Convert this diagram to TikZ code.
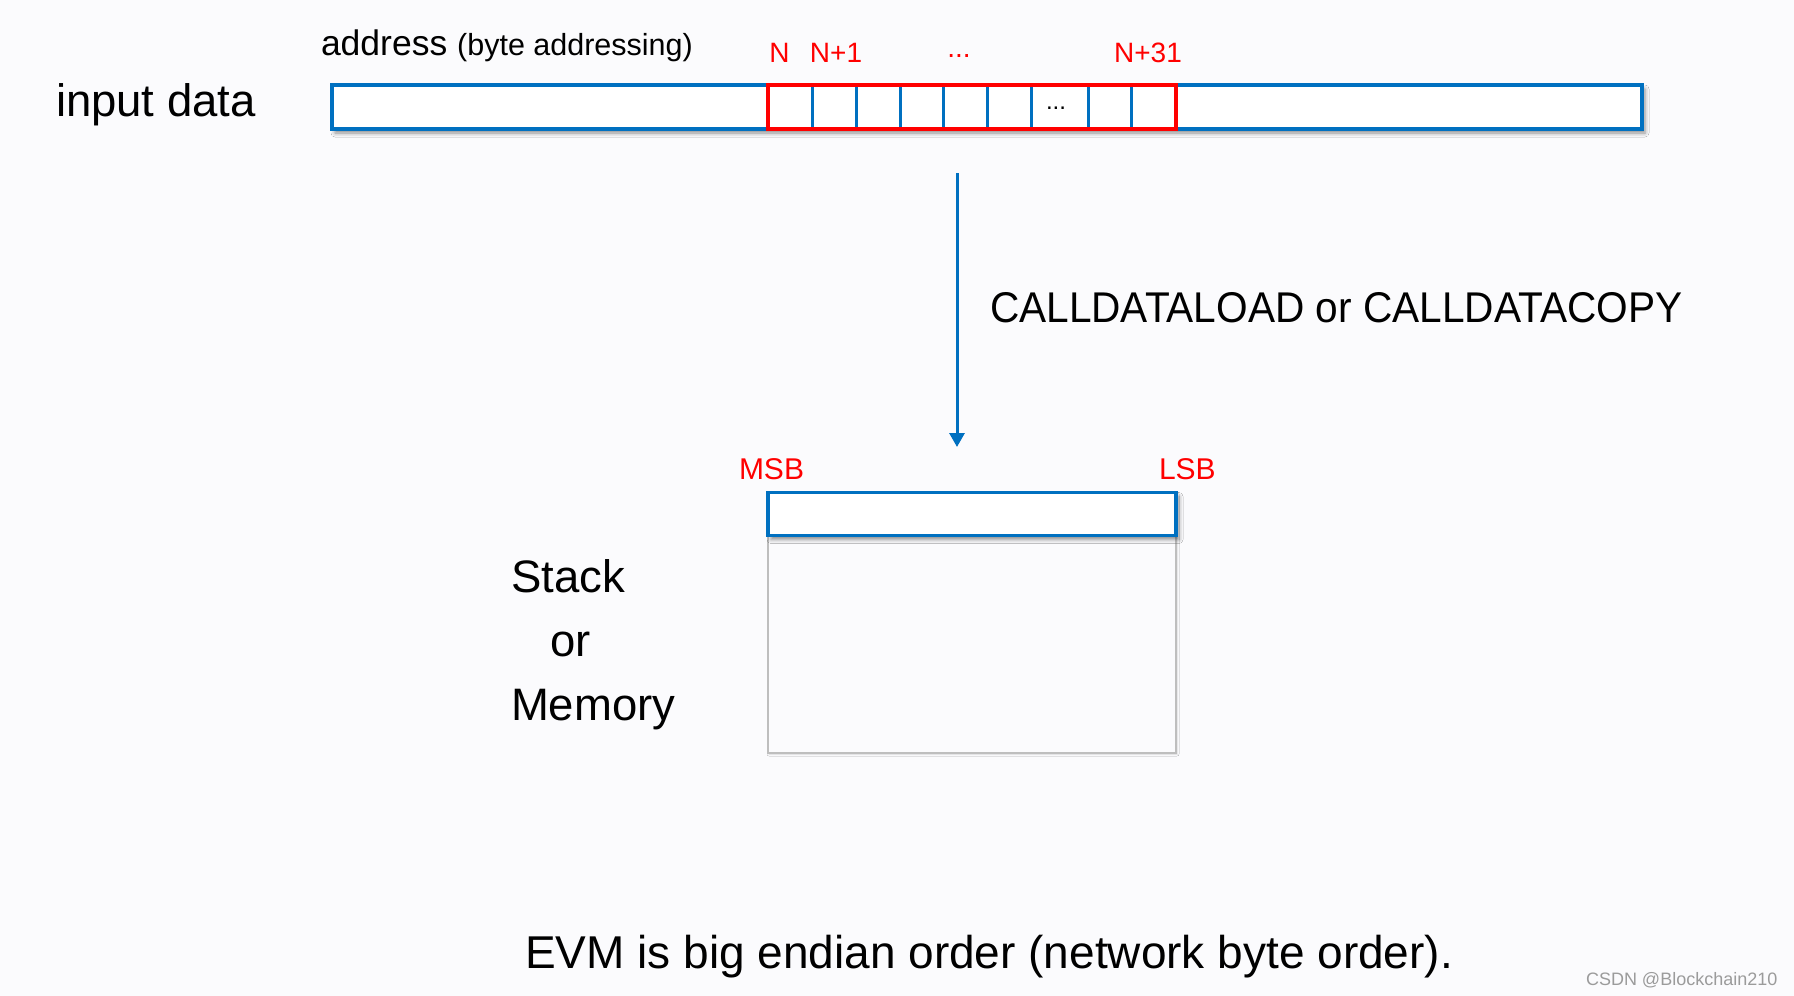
\documentclass[tikz,border=0pt]{standalone}
\usepackage{fontspec}
\setmainfont{Liberation Sans}
\usetikzlibrary{arrows.meta,shadows.blur}
\definecolor{bg}{RGB}{251,251,253}
\definecolor{pblue}{RGB}{0,112,192}
\definecolor{pred}{RGB}{255,0,0}
\definecolor{pgrey}{RGB}{190,190,190}
\definecolor{wm}{RGB}{155,155,155}
\begin{document}
\begin{tikzpicture}[x=1pt,y=-1pt,
  txt/.style={inner sep=0pt,outer sep=0pt,anchor=base west},
  ctxt/.style={inner sep=0pt,outer sep=0pt,anchor=base},
  big/.style={font=\fontsize{45.5}{55}\selectfont},
  redlbl/.style={ctxt,text=pred,font=\fontsize{28}{34}\selectfont},
  endlbl/.style={txt,text=pred,font=\fontsize{30}{36}\selectfont},
  mybar/.style={draw=pblue,line width=3.5pt,fill=white,inner sep=0pt,outer sep=0pt,
    blur shadow={shadow xshift=3pt,shadow yshift=-4pt,shadow blur radius=4pt,shadow opacity=45}},
  selbox/.style={draw=pred,line width=4pt,inner sep=0pt,outer sep=0pt},
  divider/.style={draw=pblue,line width=3pt},
  greybox/.style={draw=pgrey,line width=2.5pt,fill=bg,inner sep=0pt,outer sep=0pt,
    blur shadow={shadow xshift=1pt,shadow yshift=-1pt,shadow blur radius=2pt,shadow opacity=15}},
  arr/.style={draw=pblue,line width=3pt,-{Triangle[width=15pt,length=14pt]}}
]
\fill[bg] (0,0) rectangle (1794,996);
\useasboundingbox (0,0) rectangle (1794,996);

% input data bar
\node[mybar,minimum width=1310pt,minimum height=44pt] (bar) at (987,107) {};
\foreach \xx in {812,856,900,943,987,1031,1088,1131}
  \draw[divider] (\xx,85) -- (\xx,129);
\node[selbox,minimum width=408pt,minimum height=44pt] (sel) at (972,107) {};
\node[ctxt,font=\fontsize{24}{28}\selectfont] (celldots) at (1056,109) {...};

% labels top
\node[txt,big] (inlbl) at (56,116) {input data};
\node[txt] (addr) at (321,55) {\fontsize{35.5}{42}\selectfont address {\fontsize{30.5}{36}\selectfont (byte addressing)}};
\node[redlbl] (lN) at (779.5,62) {N};
\node[redlbl] (lN1) at (836,62) {N+1};
\node[redlbl] (ldots) at (959,57) {...};
\node[redlbl] (lN31) at (1148,62) {N+31};

% arrow
\coordinate (astart) at (957,173);
\coordinate (aend) at (957,447);
\draw[arr] (astart) -- (aend);
\node[txt,font=\fontsize{43}{52}\selectfont] (op) at (990,322) {\scalebox{0.945}[1]{CALLDATALOAD or CALLDATACOPY}};

% stack / memory
\node[greybox,minimum width=408pt,minimum height=260pt] (mem) at (972,623) {};
\node[mybar,minimum width=408pt,minimum height=43pt] (word) at (972,514) {};
\node[endlbl] (msb) at (739,479) {MSB};
\node[endlbl] (lsb) at (1159,479) {LSB};
\node[txt,big] (stk) at (511,592) {Stack};
\node[txt,big] (orw) at (550,656) {or};
\node[txt,big] (memw) at (511,720) {Memory};

% bottom
\node[txt,font=\fontsize{46}{55}\selectfont] (note) at (525,968) {EVM is big endian order (network byte order).};
\node[txt,text=wm,font=\fontsize{18}{21}\selectfont] (wmk) at (1586,985) {CSDN @Blockchain210};
\end{tikzpicture}
\end{document}
